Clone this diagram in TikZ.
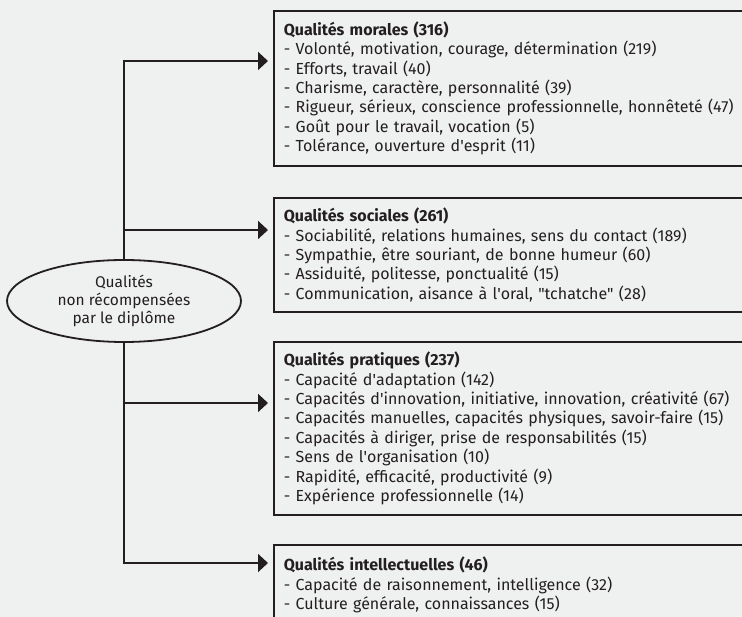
\documentclass[tikz,border=0pt]{standalone}
\usepackage{fontspec}
\setmainfont{Fira Sans}
\usetikzlibrary{arrows.meta,shapes.geometric,positioning}
\definecolor{bgGrey}{RGB}{239,240,240}
\definecolor{inkGrey}{RGB}{35,31,32}
\newcommand{\apo}{\textquotesingle}
\newcommand{\quo}{\textquotedbl}

\begin{document}
\begin{tikzpicture}[x=1pt,y=1pt,yscale=-1,xscale=1,
  qbox/.style={draw=inkGrey,line width=1.8pt,fill=bgGrey,anchor=north west,text width=470pt,inner xsep=10pt,inner ysep=0pt,align=left,font=\fontsize{16}{19.4}\selectfont,text=inkGrey},
  qroot/.style={ellipse,draw=inkGrey,line width=1.8pt,fill=bgGrey,minimum width=234pt,minimum height=82pt,inner sep=0pt,align=center,font=\fontsize{15.5}{18}\selectfont,text=inkGrey},
  qlink/.style={draw=inkGrey,line width=1.8pt,shorten >=5pt,-{Triangle[length=10pt,width=18pt]}}]
\useasboundingbox (0,0) rectangle (742,617);
\fill[bgGrey] (0,0) rectangle (742,617);
\clip (0,0) rectangle (742,617);

% Text Node
\node[qroot] (root) at (124,301) {Qualités\\non récompensées\\par le diplôme};

%Shape: Rectangle
\node[qbox,minimum height=155pt] (morales) at (273,10) {\textbf{Qualités morales (316)}\\
- Volonté, motivation, courage, détermination (219)\\
- Efforts, travail (40)\\
- Charisme, caractère, personnalité (39)\\
- Rigueur, sérieux, conscience professionnelle, honnêteté (47)\\
- Goût pour le travail, vocation (5)\\
- Tolérance, ouverture d\apo esprit (11)};
%Shape: Rectangle
\node[qbox,minimum height=114pt] (sociales) at (273,197) {\textbf{Qualités sociales (261)}\\
- Sociabilité, relations humaines, sens du contact (189)\\
- Sympathie, être souriant, de bonne humeur (60)\\
- Assiduité, politesse, ponctualité (15)\\
- Communication, aisance à l\apo oral, \quo tchatche\quo\ (28)};
%Shape: Rectangle
\node[qbox,minimum height=173pt] (pratiques) at (273,341) {\textbf{Qualités pratiques (237)}\\
- Capacité d\apo adaptation (142)\\
- Capacités d\apo innovation, initiative, innovation, créativité (67)\\
- Capacités manuelles, capacités physiques, savoir-faire (15)\\
- Capacités à diriger, prise de responsabilités (15)\\
- Sens de l\apo organisation (10)\\
- Rapidité, efficacité, productivité (9)\\
- Expérience professionnelle (14)};
%Shape: Rectangle
\node[qbox,minimum height=80pt] (intellect) at (273,544) {\textbf{Qualités intellectuelles (46)}\\
- Capacité de raisonnement, intelligence (32)\\
- Culture générale, connaissances (15)};

% Connectors
\draw[qlink] (root) |- (morales.west |- 0,61);
\draw[qlink] (root) |- (sociales.west |- 0,230);
\draw[qlink] (root) |- (pratiques.west |- 0,403);
\draw[qlink] (root) |- (intellect.west |- 0,563);

\end{tikzpicture}
\end{document}
